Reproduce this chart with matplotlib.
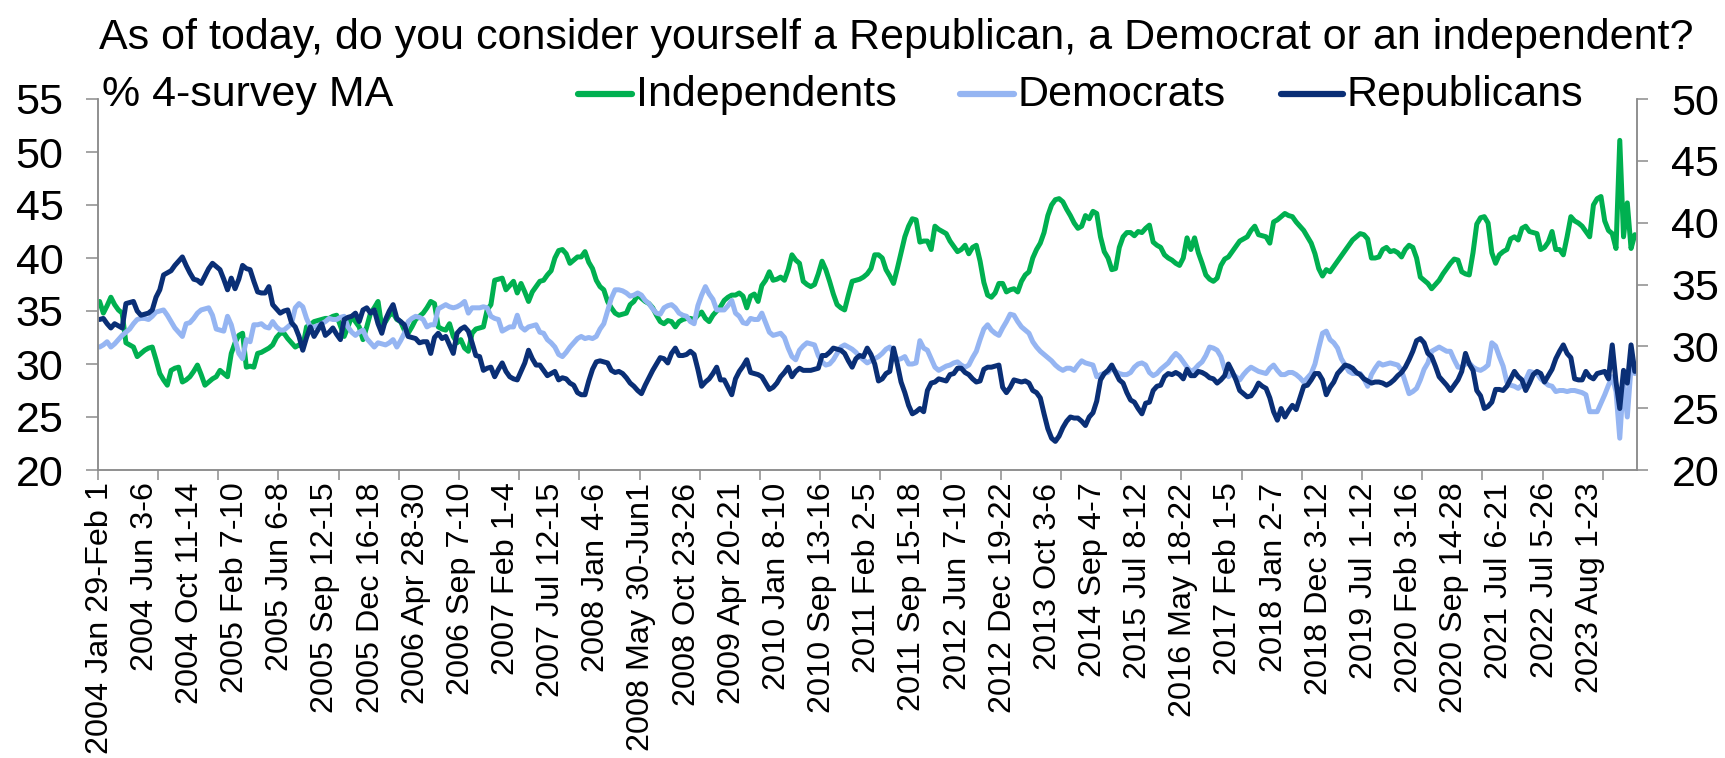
import matplotlib
matplotlib.use('Agg')
import matplotlib.pyplot as plt
from matplotlib.lines import Line2D

plt.rcParams['font.family'] = ['Liberation Sans', 'DejaVu Sans']

GREEN = '#00B050'
LIGHT_BLUE = '#95B5F2'
NAVY = '#0A2F76'
AXIS_GREY = '#8C8C8C'

TITLE = 'As of today, do you consider yourself a Republican, a Democrat or an independent?'
UNITS = '% 4-survey MA'

# one label every 12 surveys, one tick mark every 16
LABEL_EVERY = 12
TICK_EVERY = 16

label_dates = [
    '2004 Jan 29-Feb 1', '2004 Jun 3-6', '2004 Oct 11-14', '2005 Feb 7-10',
    '2005 Jun 6-8', '2005 Sep 12-15', '2005 Dec 16-18', '2006 Apr 28-30',
    '2006 Sep 7-10', '2007 Feb 1-4', '2007 Jul 12-15', '2008 Jan 4-6',
    '2008 May 30-Jun1', '2008 Oct 23-26', '2009 Apr 20-21', '2010 Jan 8-10',
    '2010 Sep 13-16', '2011 Feb 2-5', '2011 Sep 15-18', '2012 Jun 7-10',
    '2012 Dec 19-22', '2013 Oct 3-6', '2014 Sep 4-7', '2015 Jul 8-12',
    '2016 May 18-22', '2017 Feb 1-5', '2018 Jan 2-7', '2018 Dec 3-12',
    '2019 Jul 1-12', '2020 Feb 3-16', '2020 Sep 14-28', '2021 Jul 6-21',
    '2022 Jul 5-26', '2023 Aug 1-23',
]

independents = [
    35.9, 34.8, 35.5, 36.3, 35.6, 35.1, 34.8, 32.0, 31.8, 31.6, 30.7, 31.0,
    31.3, 31.5, 31.6, 30.4, 29.1, 28.5, 28.0, 29.4, 29.6, 29.7, 28.3, 28.5,
    28.8, 29.3, 29.9, 29.0, 28.0, 28.3, 28.6, 28.8, 29.4, 29.1, 28.8, 31.0,
    32.0, 32.7, 32.9, 29.7, 29.8, 29.7, 31.0, 31.1, 31.3, 31.5, 31.8, 32.5,
    32.9, 32.9, 32.4, 32.0, 31.6, 31.8, 31.6, 33.5, 33.7, 34.0, 34.1, 34.2,
    34.3, 34.3, 34.5, 34.6, 33.6, 32.6, 33.5, 34.5, 34.0, 33.5, 32.3, 33.5,
    34.8, 35.3, 35.9, 33.5, 34.0, 34.6, 34.8, 34.2, 34.0, 33.2, 32.9, 33.5,
    34.2, 34.5, 34.8, 35.3, 35.9, 35.7, 33.5, 33.3, 33.2, 33.8, 32.6, 32.0,
    32.3, 31.5, 31.2, 32.9, 33.3, 33.4, 33.5, 35.1, 35.6, 37.9, 38.0, 38.1,
    37.0, 37.4, 37.8, 36.7, 37.6, 36.8, 35.9, 36.8, 37.3, 37.8, 37.9, 38.4,
    38.8, 40.0, 40.7, 40.8, 40.4, 39.5, 39.8, 40.1, 40.1, 40.6, 39.6, 39.0,
    37.9, 37.3, 37.0, 35.9, 35.3, 34.8, 34.6, 34.7, 34.8, 35.6, 35.9, 36.5,
    36.2, 35.9, 35.7, 35.3, 34.6, 34.0, 33.8, 34.1, 34.0, 33.5, 34.0, 34.2,
    34.3, 34.3, 34.2, 34.6, 34.9, 34.3, 34.0, 34.6, 35.0, 35.4, 36.0, 36.3,
    36.5, 36.5, 36.7, 36.4, 35.3, 36.4, 36.6, 35.9, 37.4, 37.9, 38.7, 37.9,
    38.0, 38.2, 37.9, 38.9, 40.3, 39.8, 39.5, 37.8, 37.5, 37.3, 37.5, 38.5,
    39.7, 38.9, 37.8, 36.6, 35.6, 35.3, 35.1, 36.5, 37.8, 37.9, 38.0, 38.2,
    38.5, 39.0, 40.3, 40.3, 40.0, 38.9, 38.3, 37.6, 39.0, 40.5, 42.0, 43.0,
    43.7, 43.6, 41.5, 41.6, 41.6, 40.8, 43.0, 42.7, 42.5, 42.3, 41.6, 41.1,
    40.6, 40.8, 41.2, 40.4, 41.0, 41.2, 39.7, 37.7, 36.5, 36.3, 36.7, 37.6,
    37.6, 36.8, 37.0, 37.1, 36.8, 37.8, 38.4, 38.7, 40.0, 40.8, 41.4, 42.4,
    44.0, 45.0, 45.5, 45.6, 45.3, 44.6, 44.0, 43.3, 42.8, 43.0, 44.0, 43.7,
    44.4, 44.2, 42.0, 40.6, 40.0, 38.9, 39.0, 41.0, 42.0, 42.4, 42.4, 42.1,
    42.5, 42.4, 42.8, 43.1, 41.5, 41.2, 41.0, 40.3, 40.0, 39.8, 39.5, 39.3,
    40.0, 41.9, 40.8, 41.9, 40.5, 39.5, 38.4, 38.0, 37.8, 38.1, 39.3, 39.9,
    40.1, 40.6, 41.1, 41.6, 41.8, 42.0, 42.6, 43.0, 42.2, 42.1, 42.0, 41.4,
    43.4, 43.6, 43.9, 44.2, 44.0, 43.9, 43.4, 43.0, 42.6, 42.0, 41.4, 40.4,
    39.0, 38.3, 38.9, 38.7, 39.2, 39.7, 40.2, 40.7, 41.2, 41.7, 42.0, 42.3,
    42.2, 41.8, 40.0, 40.0, 40.1, 40.8, 41.0, 40.6, 40.7, 40.5, 40.1, 40.8,
    41.2, 41.0, 40.0, 38.2, 37.9, 37.6, 37.1, 37.5, 37.9, 38.5, 39.0, 39.5,
    39.9, 39.8, 38.7, 38.5, 38.4, 40.5, 43.2, 43.8, 43.9, 43.3, 40.5, 39.5,
    40.3, 40.6, 40.8, 41.8, 42.0, 41.7, 42.8, 43.0, 42.5, 42.4, 42.3, 40.8,
    41.0, 41.5, 42.5, 40.8, 40.8, 40.3, 42.0, 43.9, 43.5, 43.3, 43.0, 42.5,
    42.0, 45.0, 45.6, 45.8, 43.5, 42.6, 42.3, 40.9, 51.1, 42.0, 45.2, 40.9,
    42.2,
]

democrats = [
    31.6, 31.8, 32.1, 31.6, 31.9, 32.3, 32.7, 33.0, 33.3, 33.8, 34.2, 34.3,
    34.3, 34.2, 34.5, 34.9, 35.0, 35.1, 34.6, 34.0, 33.4, 33.0, 32.6, 33.8,
    33.9, 34.3, 34.8, 35.1, 35.2, 35.3, 34.6, 33.3, 33.2, 33.1, 34.5, 33.7,
    32.3, 31.0, 30.5, 32.3, 32.1, 33.7, 33.7, 33.8, 33.5, 33.4, 34.0, 33.5,
    33.2, 33.2, 33.5, 33.8, 35.3, 35.7, 35.4, 34.3, 33.5, 33.5, 33.6, 33.8,
    34.0, 34.3, 34.2, 34.2, 34.4, 34.5, 33.5, 33.0, 32.7, 33.0, 33.2, 32.4,
    32.0, 31.6, 32.0, 31.9, 31.8, 32.0, 32.3, 31.6, 32.2, 32.9, 34.0, 34.3,
    34.5, 34.4, 34.2, 33.5, 33.7, 33.7, 35.2, 35.4, 35.6, 35.4, 35.3, 35.4,
    35.6, 35.9, 34.8, 35.3, 35.3, 35.3, 35.4, 35.3, 34.5, 34.3, 34.2, 33.1,
    33.3, 33.5, 33.5, 34.6, 33.5, 33.2, 33.5, 33.6, 33.7, 33.0, 32.9, 32.3,
    32.0, 31.6, 30.9, 30.7, 31.1, 31.6, 32.0, 32.4, 32.6, 32.4, 32.5, 32.4,
    32.6, 33.3, 33.8, 35.0, 36.2, 37.0, 37.0, 36.9, 36.7, 36.4, 36.5, 36.7,
    36.5, 36.0, 35.7, 35.2, 34.8, 34.7, 35.3, 35.5, 35.6, 35.3, 34.8, 34.6,
    34.5, 34.0, 33.8, 35.5, 36.5, 37.3, 36.6, 36.1, 35.1, 35.1, 35.1, 35.5,
    36.0, 34.8, 34.5, 33.9, 33.8, 34.3, 34.2, 34.2, 34.8, 33.9, 33.0, 32.7,
    32.8, 32.9, 32.5, 31.5, 30.7, 30.4, 31.3, 31.7, 32.0, 31.9, 31.8, 30.8,
    30.2, 29.9, 30.0, 30.4, 31.0, 31.6, 31.8, 31.6, 31.4, 31.1, 30.7, 30.4,
    30.1, 30.3, 30.5, 30.7, 31.0, 31.4, 31.6, 31.0, 30.4, 30.5, 30.7, 30.0,
    30.0, 30.1, 32.2, 31.5, 31.3, 30.5, 29.7, 29.4, 29.6, 29.8, 29.9, 30.1,
    30.2, 29.9, 29.7, 29.9, 30.6, 31.2, 32.3, 33.3, 33.7, 33.2, 32.9, 32.7,
    33.4, 34.0, 34.7, 34.6, 34.0, 33.5, 33.2, 32.9, 32.1, 31.6, 31.2, 30.9,
    30.6, 30.3, 29.9, 29.6, 29.4, 29.6, 29.6, 29.4, 29.9, 30.3, 30.1, 30.0,
    29.9, 28.8, 29.0, 29.1, 29.2, 29.6, 29.3, 29.1, 29.0, 29.0, 29.2, 29.7,
    30.0, 30.1, 29.9, 29.2, 28.9, 29.1, 29.5, 29.8, 30.1, 30.6, 31.0, 30.7,
    30.2, 29.7, 29.3, 29.5, 29.9, 30.2, 30.8, 31.6, 31.5, 31.3, 30.7, 29.5,
    28.8, 29.1, 28.8, 28.5, 29.0, 29.4, 29.7, 29.5, 29.3, 29.2, 29.1, 29.6,
    29.9, 29.4, 29.0, 29.0, 29.2, 29.2, 29.0, 28.7, 28.3, 28.7, 29.1, 30.0,
    31.5, 32.9, 33.1, 32.3, 32.0, 31.5, 30.5, 29.9, 29.3, 29.1, 29.1, 29.1,
    28.6, 27.9, 29.0, 29.6, 30.1, 29.9, 30.0, 30.1, 30.0, 29.9, 29.4, 28.3,
    27.2, 27.4, 27.7, 28.5, 29.5, 30.1, 31.2, 31.4, 31.6, 31.4, 31.2, 31.2,
    30.4, 29.7, 29.7, 30.0, 30.1, 29.7, 29.5, 29.4, 29.6, 29.9, 32.0, 31.7,
    30.7, 29.8, 28.3, 28.0, 27.9, 27.7, 28.0, 28.5, 29.3, 29.2, 29.1, 28.6,
    28.3, 28.0, 27.9, 27.4, 27.5, 27.5, 27.4, 27.5, 27.5, 27.4, 27.3, 27.1,
    25.5, 25.5, 25.5, 26.3, 27.1, 28.0, 28.8, 27.4, 23.0, 28.5, 25.0, 29.7,
    29.1,
]

republicans = [
    34.2, 34.3, 33.8, 33.4, 33.8, 33.6, 33.4, 35.7, 35.8, 35.9, 35.0, 34.6,
    34.7, 34.8, 35.1, 36.3, 37.0, 38.4, 38.6, 38.8, 39.3, 39.7, 40.1, 39.3,
    38.6, 38.0, 37.9, 37.6, 38.3, 39.0, 39.5, 39.2, 38.9, 38.0, 37.0, 38.1,
    37.1, 38.0, 39.3, 39.0, 38.9, 37.8, 36.8, 36.7, 36.7, 37.3, 35.6, 35.2,
    34.8, 35.0, 35.1, 33.9, 33.5, 32.6, 31.3, 32.5, 33.5, 32.6, 33.2, 33.8,
    32.7, 33.0, 33.4, 32.8, 32.3, 34.2, 34.4, 34.5, 34.8, 34.0, 35.1, 35.3,
    34.8, 35.1, 33.8, 32.9, 34.2, 35.0, 35.6, 34.3, 34.0, 33.7, 32.6, 32.5,
    32.4, 32.0, 32.1, 32.1, 31.0, 32.5, 32.9, 32.4, 32.6, 31.8, 31.0, 32.9,
    33.3, 33.5, 33.1, 32.0, 30.8, 30.7, 29.4, 29.6, 29.7, 28.8, 29.5, 30.1,
    29.3, 28.8, 28.6, 28.5, 29.3, 30.1, 31.3, 30.5, 29.9, 29.9, 29.4, 28.9,
    29.1, 29.3, 28.5, 28.7, 28.6, 28.2, 28.0, 27.3, 27.1, 27.1, 28.4, 29.5,
    30.2, 30.3, 30.2, 30.1, 29.4, 29.2, 29.3, 29.1, 28.7, 28.2, 27.9, 27.5,
    27.2, 28.0, 28.7, 29.4, 30.0, 30.6, 30.5, 30.1, 31.0, 31.5, 30.8, 30.8,
    30.9, 31.2, 30.9, 29.5, 27.9, 28.3, 28.6, 29.1, 29.7, 28.5, 28.5, 27.8,
    27.1, 28.6, 29.3, 29.8, 30.4, 29.2, 29.1, 29.0, 28.8, 28.2, 27.6, 27.8,
    28.2, 28.8, 29.2, 29.7, 28.8, 29.3, 29.6, 29.4, 29.4, 29.4, 29.5, 29.6,
    30.8, 30.8, 31.1, 31.5, 31.4, 31.3, 31.0, 30.3, 29.7, 30.5, 30.8, 30.7,
    31.5, 30.9, 30.0, 28.4, 28.6, 29.1, 29.3, 31.5, 30.0, 28.3, 27.3, 26.1,
    25.3, 25.5, 25.8, 25.5, 27.5, 28.2, 28.3, 28.6, 28.5, 28.4, 29.0, 29.1,
    29.6, 29.6, 29.2, 29.0, 28.6, 28.3, 28.4, 29.5, 29.7, 29.7, 29.8, 29.9,
    27.8, 27.3, 27.8, 28.5, 28.4, 28.3, 28.4, 28.2, 27.5, 27.3, 26.8, 25.3,
    23.9, 23.0, 22.7, 23.2, 24.0, 24.6, 25.0, 24.9, 24.9, 24.6, 24.2, 25.0,
    25.4, 26.5, 28.5, 29.1, 29.4, 29.9, 29.2, 28.5, 28.2, 27.3, 26.6, 26.4,
    25.8, 25.3, 26.3, 26.4, 27.5, 27.9, 28.0, 28.8, 29.1, 29.0, 29.2, 29.0,
    28.6, 29.5, 28.9, 28.9, 29.3, 29.2, 29.0, 28.7, 28.6, 28.2, 28.5, 28.9,
    30.0, 29.3, 28.5, 27.5, 27.2, 26.9, 27.0, 27.5, 28.2, 27.9, 27.7, 26.8,
    25.5, 24.7, 25.8, 25.0, 25.6, 26.1, 25.7, 26.8, 27.9, 28.0, 28.5, 29.1,
    29.1, 28.5, 27.1, 27.8, 28.3, 29.1, 29.5, 29.9, 29.8, 29.6, 29.2, 29.0,
    28.6, 28.4, 28.2, 28.3, 28.3, 28.2, 28.0, 28.2, 28.5, 28.9, 29.2, 29.7,
    30.4, 31.2, 32.2, 32.4, 32.0, 31.0, 30.7, 29.8, 28.8, 28.4, 28.0, 27.5,
    28.0, 28.5, 29.3, 31.0, 30.0, 29.4, 27.5, 27.0, 25.8, 26.0, 26.4, 27.6,
    27.6, 27.5, 27.9, 28.6, 29.3, 28.8, 28.5, 27.5, 28.2, 29.0, 29.3, 29.1,
    28.3, 28.9, 29.5, 30.5, 31.2, 31.8, 31.0, 30.6, 28.6, 28.5, 28.5, 29.3,
    28.8, 28.6, 29.1, 29.2, 29.3, 28.6, 31.8, 28.3, 25.8, 29.4, 28.2, 31.8,
    29.3,
]

series = [
    ('Independents', independents, GREEN),
    ('Democrats', democrats, LIGHT_BLUE),
    ('Republicans', republicans, NAVY),
]

W, H = 1725, 758
FS = 31

fig = plt.figure(figsize=(W / 100, H / 100), dpi=100)
ax = fig.add_axes([97.7 / W, 288 / H, 1539 / W, 371 / H])

n = len(independents)
x = list(range(n))
for name, values, color in series:
    ax.plot(x, values, color=color, lw=3.6, solid_joinstyle='round',
            solid_capstyle='round')

ax.set_xlim(-0.5, n - 0.5)
ax.set_ylim(20, 55)
ax.set_yticks(range(20, 56, 5))

# tick marks sit between categories, labels on the category itself
ax.set_xticks([k * TICK_EVERY - 0.5 for k in range(n // TICK_EVERY + 1)])
ax.set_xticklabels([])
ax.set_xticks([k * LABEL_EVERY for k in range(len(label_dates))], minor=True)
ax.set_xticklabels(label_dates, minor=True, rotation=90, fontsize=23.3)
ax.tick_params(axis='x', which='major', length=7.5, width=1.1, color=AXIS_GREY)
ax.tick_params(axis='x', which='minor', length=0, pad=9)
ax.tick_params(axis='y', length=8.6, width=1.1, color=AXIS_GREY, pad=16,
               labelsize=FS)

ax2 = ax.twinx()
ax2.set_ylim(20, 50)
ax2.set_yticks(range(20, 51, 5))
ax2.tick_params(axis='y', length=8, width=1.1, color=AXIS_GREY, pad=17,
                labelsize=FS)

for a in (ax, ax2):
    a.spines['top'].set_visible(False)
    for side in ('left', 'right', 'bottom'):
        a.spines[side].set_color(AXIS_GREY)
        a.spines[side].set_linewidth(1.1)

fig.text(0.5198, (H - 49) / H, TITLE, ha='center', va='baseline', fontsize=FS)
fig.text(101.7 / W, (H - 106) / H, UNITS, ha='left', va='baseline', fontsize=FS)

# legend drawn along the top of the plot
legend_x = [577.5, 959.6, 1281.0]
legend_len = [54, 54, 62]
for (name, values, color), x0, ln in zip(series, legend_x, legend_len):
    fig.add_artist(Line2D([x0 / W, (x0 + ln) / W], [(H - 94) / H] * 2,
                          color=color, lw=4.5, solid_capstyle='round'))
    fig.text((x0 + ln + 4) / W, (H - 106) / H, name, ha='left', va='baseline',
             fontsize=FS)

fig.savefig('out.png', dpi=100)
plt.close(fig)
